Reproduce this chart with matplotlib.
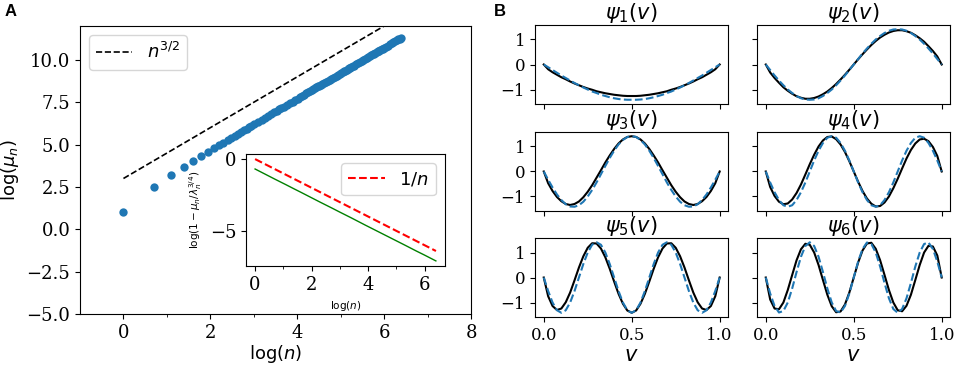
import matplotlib
matplotlib.use('Agg')
import matplotlib.pyplot as plt
import numpy as np

# ---------------- panel A data ----------------
n_idx = [1, 2, 3, 4, 5, 6, 7, 8, 9, 10, 11, 12, 13, 14, 15, 16, 17, 18, 19, 20,
         22, 24, 26, 28, 30, 32, 34, 36, 38, 40,
         43, 46, 49, 52, 55, 58, 61, 64, 67, 70, 73, 76, 79, 82, 85, 88, 91, 94, 97, 100,
         105, 110, 115, 120, 125, 130, 135, 140, 145, 150, 155, 160, 165, 170, 175, 180, 185, 190, 195, 200,
         210, 220, 230, 240, 250, 260, 270, 280, 290, 300, 310, 320, 330, 340, 350, 360, 370, 380, 390, 400,
         420, 440, 460, 480, 500, 520, 540, 560, 580, 600]
log_mu = [1.02, 2.47, 3.18, 3.66, 4.03, 4.32, 4.56, 4.77, 4.96, 5.12, 5.27, 5.40, 5.53, 5.64, 5.75,
          5.84, 5.94, 6.02, 6.11, 6.19, 6.33, 6.46, 6.58, 6.70, 6.80, 6.90, 6.99, 7.08, 7.16, 7.24,
          7.35, 7.45, 7.54, 7.63, 7.72, 7.80, 7.88, 7.95, 8.02, 8.08, 8.15, 8.21, 8.26, 8.32, 8.38,
          8.43, 8.48, 8.53, 8.57, 8.62, 8.69, 8.76, 8.83, 8.89, 8.96, 9.01, 9.07, 9.13, 9.18, 9.23,
          9.28, 9.33, 9.37, 9.42, 9.46, 9.50, 9.54, 9.58, 9.62, 9.66, 9.74, 9.81, 9.87, 9.94, 10.00,
          10.06, 10.11, 10.17, 10.22, 10.27, 10.32, 10.37, 10.41, 10.46, 10.50, 10.54, 10.59, 10.63,
          10.67, 10.70, 10.78, 10.85, 10.91, 10.98, 11.04, 11.10, 11.15, 11.21, 11.26, 11.31]

ref_x = [0, 6.4]          # n^{3/2} guide line, in log(n)
ref_y = [3.0, 12.6]

# inset
n_green = [1, 2, 3, 4, 5, 7, 10, 15, 20, 30, 50, 100, 200, 300, 400, 600]
green = [-0.69, -1.39, -1.79, -2.08, -2.30, -2.64, -3.00, -3.40, -3.69, -4.09, -4.61,
         -5.30, -5.99, -6.40, -6.68, -7.09]
inv_x = [0, 6.4]
inv_y = [0, -6.4]

# ---------------- panel B data (x100) ----------------
v_grid = [0, 0.025, 0.05, 0.075, 0.1, 0.125, 0.15, 0.175, 0.2, 0.225, 0.25, 0.275, 0.3, 0.325,
          0.35, 0.375, 0.4, 0.425, 0.45, 0.475, 0.5, 0.525, 0.55, 0.575, 0.6, 0.625, 0.65, 0.675,
          0.7, 0.725, 0.75, 0.775, 0.8, 0.825, 0.85, 0.875, 0.9, 0.925, 0.95, 0.975, 1.0]

psi_sine = [
    [0, -11, -22, -33, -44, -54, -64, -74, -83, -92, -100, -108, -114, -121, -126, -131, -135, -138, -140, -141, -141,
     -141, -140, -138, -135, -131, -126, -121, -114, -108, -100, -92, -83, -74, -64, -54, -44, -33, -22, -11, 0],
    [0, -22, -44, -64, -83, -100, -114, -126, -135, -140, -141, -140, -135, -126, -114, -100, -83, -64, -44, -22, 0,
     22, 44, 64, 83, 100, 114, 126, 135, 140, 141, 140, 135, 126, 114, 100, 83, 64, 44, 22, 0],
    [0, -33, -64, -92, -114, -131, -140, -141, -135, -121, -100, -74, -44, -11, 22, 54, 83, 108, 126, 138, 141,
     138, 126, 108, 83, 54, 22, -11, -44, -74, -100, -121, -135, -141, -140, -131, -114, -92, -64, -33, 0],
    [0, -44, -83, -114, -135, -141, -135, -114, -83, -44, 0, 44, 83, 114, 135, 141, 135, 114, 83, 44, 0,
     -44, -83, -114, -135, -141, -135, -114, -83, -44, 0, 44, 83, 114, 135, 141, 135, 114, 83, 44, 0],
    [0, -54, -100, -131, -141, -131, -100, -54, 0, 54, 100, 131, 141, 131, 100, 54, 0, -54, -100, -131, -141,
     -131, -100, -54, 0, 54, 100, 131, 141, 131, 100, 54, 0, -54, -100, -131, -141, -131, -100, -54, 0],
    [0, -64, -114, -140, -134, -100, -44, 22, 83, 126, 141, 126, 83, 22, -44, -100, -134, -140, -114, -64, 0,
     64, 114, 140, 134, 100, 44, -22, -83, -126, -141, -126, -83, -22, 44, 100, 134, 140, 114, 64, 0],
]
psi_num = [
    [0, -19, -31, -41, -51, -59, -68, -76, -83, -90, -96, -101, -107, -111, -115, -118, -121, -123, -125, -126, -126,
     -126, -125, -123, -121, -118, -115, -111, -107, -101, -96, -90, -83, -76, -68, -59, -51, -41, -31, -19, 0],
    [0, -32, -54, -73, -91, -105, -117, -127, -133, -137, -137, -134, -128, -119, -108, -94, -78, -60, -41, -21, 0,
     21, 41, 60, 78, 94, 108, 119, 128, 134, 137, 137, 133, 127, 117, 105, 91, 73, 54, 32, 0],
    [0, -47, -78, -102, -119, -130, -134, -130, -120, -103, -81, -55, -25, 5, 36, 64, 90, 112, 128, 138, 141,
     138, 128, 112, 90, 64, 36, 5, -25, -55, -81, -103, -120, -130, -134, -130, -119, -102, -78, -47, 0],
    [0, -62, -98, -121, -131, -128, -112, -86, -52, -12, 29, 67, 100, 124, 138, 140, 129, 108, 78, 41, 0,
     -41, -78, -108, -129, -140, -138, -124, -100, -67, -29, 12, 52, 86, 112, 128, 131, 121, 98, 62, 0],
    [0, -75, -114, -130, -124, -99, -60, -11, 40, 85, 119, 137, 136, 116, 81, 35, -16, -65, -105, -132, -141,
     -132, -105, -65, -16, 35, 81, 116, 136, 137, 119, 85, 40, -11, -60, -99, -124, -130, -114, -75, 0],
    [0, -88, -124, -127, -100, -50, 10, 69, 113, 135, 131, 100, 50, -10, -69, -115, -139, -136, -108, -60, 0,
     60, 108, 136, 139, 115, 69, 10, -50, -100, -131, -135, -113, -69, -10, 50, 100, 127, 124, 88, 0],
]

SERIF = 'DejaVu Serif'
BLUE = '#1f77b4'

fig = plt.figure(figsize=(9.57, 3.67), dpi=100)

# ---------------- panel A ----------------
axA = fig.add_axes([0.0836, 0.1444, 0.4086, 0.7847])
axA.scatter(np.log(n_idx), log_mu, s=36, color=BLUE, zorder=3, linewidths=0)
axA.plot(ref_x, ref_y, 'k--', lw=1.2, label=r'$n^{3/2}$')
axA.set_xlim(-1, 8)
axA.set_ylim(-5, 12)
axA.set_yticks([-5, -2.5, 0, 2.5, 5, 7.5, 10])
axA.set_yticklabels(['−5.0', '−2.5', '0.0', '2.5', '5.0', '7.5', '10.0'])
axA.set_xticks([0, 2, 4, 6, 8])
axA.set_xticks([1, 3, 5, 7], minor=True)
axA.tick_params(labelsize=13, labelfontfamily=SERIF)
axA.set_xlabel(r'log($n$)', fontsize=13, labelpad=1)
axA.set_ylabel(r'log($\mu_n$)', fontsize=13)
axA.legend(loc='upper left', fontsize=13, handlelength=2.0)

# inset
axI = fig.add_axes([0.2571, 0.2752, 0.2079, 0.3052])
axI.plot(np.log(n_green), green, color='green', lw=1)
axI.plot(inv_x, inv_y, 'r--', lw=1.5, label=r'$1/n$')
axI.set_yticks([0, -5])
axI.set_xticks([0, 2, 4, 6])
axI.set_xticks([1, 3, 5], minor=True)
axI.tick_params(labelsize=13, labelfontfamily=SERIF)
axI.set_xlabel(r'log($n$)', fontsize=7.5)
axI.set_ylabel(r'log($1-\mu_n/\lambda_n^{3/4}$)', fontsize=7.5)
axI.legend(loc='upper right', fontsize=13, handlelength=2.0)

# ---------------- panel B ----------------
lefts = [0.5590, 0.7910]
bottoms = [0.7166, 0.4251, 0.1362]
for k in range(6):
    r, c = divmod(k, 2)
    ax = fig.add_axes([lefts[c], bottoms[r], 0.2022, 0.2153])
    ax.plot(v_grid, np.array(psi_num[k]) / 100, 'k-', lw=1.5)
    ax.plot(v_grid, np.array(psi_sine[k]) / 100, '--', color=BLUE, lw=1.5)
    ax.set_ylim(-1.58, 1.58)
    ax.set_yticks([-1, 0, 1])
    ax.set_xticks([0, 0.5, 1.0])
    ax.tick_params(labelsize=12, labelfontfamily=SERIF,
                   labelleft=(c == 0), labelbottom=(r == 2))
    ax.set_title(r'$\psi_{%d}(v)$' % (k + 1), fontsize=15, pad=3)
    if r == 2:
        ax.set_xlabel(r'$v$', fontsize=15, labelpad=1)

fig.text(0.005, 0.97, 'A', fontsize=12, fontweight='bold', family='Liberation Sans', va='center')
fig.text(0.516, 0.97, 'B', fontsize=12, fontweight='bold', family='Liberation Sans', va='center')

fig.savefig('out.png')
